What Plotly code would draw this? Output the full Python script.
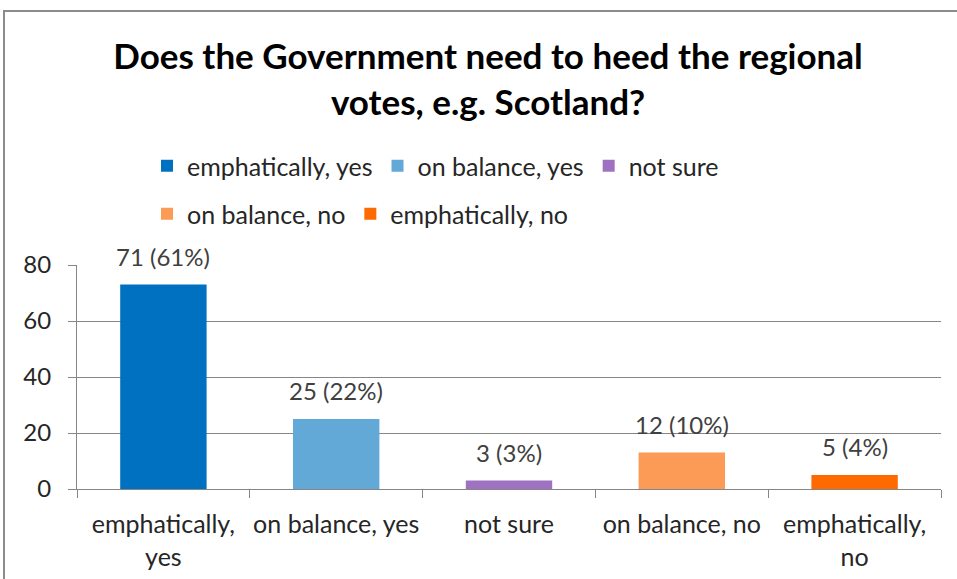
import plotly.graph_objects as go

categories = ["emphatically, yes", "on balance, yes", "not sure", "on balance, no", "emphatically, no"]
tick_labels = ["emphatically,<br>yes", "on balance, yes", "not sure", "on balance, no", "emphatically,<br>no"]
values = [73, 25, 3, 13, 5]
data_labels = ["71 (61%)", "25 (22%)", "3 (3%)", "12 (10%)", "5 (4%)"]
colors = ["#0070C0", "#62A9D8", "#9F72C1", "#FC9B56", "#FF6A00"]
legend_ids = ["legend", "legend", "legend", "legend2", "legend2"]

FONT = "Lato"
TXT = "#262626"

fig = go.Figure()
for cat, val, col, lg in zip(categories, values, colors, legend_ids):
    fig.add_trace(go.Bar(x=[cat], y=[val], name=cat, marker=dict(color=col, line=dict(width=0)),
                         width=0.5, legend=lg, hoverinfo="x+y"))

for cat, val, lab in zip(categories, values, data_labels):
    fig.add_annotation(x=cat, y=val, text=lab, showarrow=False, yanchor="bottom", yshift=12,
                       font=dict(family=FONT, size=24, color="#404040"))

# outer frame
fig.add_shape(type="rect", xref="paper", yref="paper",
              x0=(4 - 77) / 864, x1=(962 - 77) / 864,
              y0=(489 - 590) / 224, y1=1 + (265 - 11) / 224,
              line=dict(color="#8C8C8C", width=2), layer="below")

fig.update_layout(
    width=957, height=579,
    margin=dict(l=77, r=16, t=265, b=90, autoexpand=False),
    paper_bgcolor="white", plot_bgcolor="white",
    barmode="overlay",
    title=dict(text="<b>Does the Government need to heed the regional<br>votes, e.g. Scotland?</b>",
               x=0.51, xanchor="center", xref="container",
               y=1 - 69 / 579, yanchor="middle", yref="container",
               font=dict(family=FONT, size=35, color="black")),
    font=dict(family=FONT, size=24, color=TXT),
    legend=dict(orientation="h", x=(147 - 77) / 864, xanchor="left",
                y=1 + (265 - 166) / 224, yanchor="middle",
                font=dict(family=FONT, size=25, color=TXT), bgcolor="rgba(0,0,0,0)"),
    legend2=dict(orientation="h", x=(147 - 77) / 864, xanchor="left",
                 y=1 + (265 - 214) / 224, yanchor="middle",
                 font=dict(family=FONT, size=25, color=TXT), bgcolor="rgba(0,0,0,0)"),
    showlegend=True,
)

fig.update_xaxes(
    type="category", categoryorder="array", categoryarray=categories,
    tickvals=categories, ticktext=tick_labels, tickangle=0, automargin=False,
    tickson="boundaries", ticks="outside", ticklen=8, tickcolor="#868686",
    showline=True, linecolor="#868686", linewidth=1,
    showgrid=False, ticklabelstandoff=13,
    tickfont=dict(family=FONT, size=25, color=TXT),
)
fig.update_yaxes(
    range=[0, 80], tickvals=[0, 20, 40, 60, 80], automargin=False,
    ticks="outside", ticklen=8, tickcolor="#868686",
    showline=True, linecolor="#868686", linewidth=1,
    showgrid=True, gridcolor="#868686", gridwidth=1,
    zeroline=False, ticklabelstandoff=12,
    tickfont=dict(family=FONT, size=24, color=TXT),
)

fig.write_html("out.html", config={"displayModeBar": False},
               post_script="document.body.style.margin='0';document.body.style.overflow='hidden';")
